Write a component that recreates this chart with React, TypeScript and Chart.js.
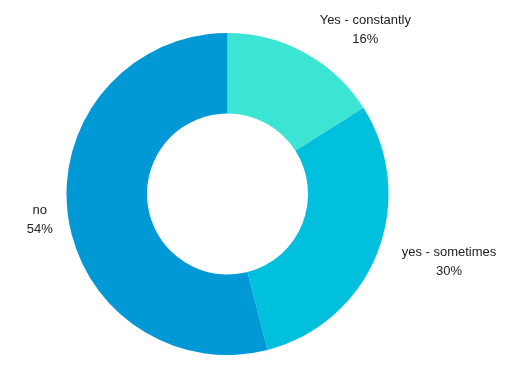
import React, { useEffect, useRef } from "react";
import { Chart, registerables } from "chart.js";

Chart.register(...registerables);

const categories = ["Yes - constantly", "yes - sometimes", "no"];
const values = [16, 30, 54];
const percentLabels = ["16%", "30%", "54%"];
const colors = ["#3ce4d4", "#00c0de", "#0099d6"];

const outsideLabels = {
  id: "outsideLabels",
  afterDatasetsDraw(chart: any) {
    const ctx = chart.ctx;
    const meta = chart.getDatasetMeta(0);
    ctx.save();
    ctx.font = "13px 'Liberation Sans', Arial, sans-serif";
    ctx.fillStyle = "#222";
    ctx.textAlign = "center";
    ctx.textBaseline = "middle";
    const lineH = 19;
    meta.data.forEach((arc: any, i: number) => {
      const { x, y, startAngle, endAngle, outerRadius } = arc.getProps(
        ["x", "y", "startAngle", "endAngle", "outerRadius"],
        true
      );
      const mid = (startAngle + endAngle) / 2;
      const dx = Math.cos(mid);
      const dy = Math.sin(mid);
      const r = outerRadius + 12;
      const ax = x + dx * r;
      const ay = y + dy * r;
      const lines = [categories[i], percentLabels[i]];
      const w = Math.max(...lines.map((l) => ctx.measureText(l).width));
      const h = lines.length * lineH;
      let cx = ax;
      if (dx > 0.3) cx = ax + 4 + 10 * dx + w / 2;
      else if (dx < -0.3) cx = ax - 3 - w / 2;
      let cy = ay + 4 + 2 * dy;
      if (dy < -0.7) cy = ay + 7 - h / 2;
      else if (dy > 0.7) cy = ay + h / 2;
      lines.forEach((l, k) => {
        ctx.fillText(l, cx, cy - h / 2 + lineH / 2 + k * lineH);
      });
    });
    ctx.restore();
  },
};

export default function App() {
  const ref = useRef<HTMLCanvasElement>(null);
  useEffect(() => {
    document.body.style.margin = "0";
    const chart = new Chart(ref.current!, {
      type: "doughnut",
      data: {
        labels: categories,
        datasets: [
          {
            data: values,
            backgroundColor: colors,
            borderWidth: 0,
          },
        ],
      },
      options: {
        animation: false,
        responsive: false,
        cutout: "50%",
        layout: { padding: { left: 66, right: 129, top: 33, bottom: 20 } },
        plugins: {
          legend: { display: false },
          tooltip: { enabled: false },
        },
      },
      plugins: [outsideLabels],
    });
    return () => chart.destroy();
  }, []);
  return (
    <div style={{ width: 518, height: 375 }}>
      <canvas ref={ref} width={518} height={375} />
    </div>
  );
}
